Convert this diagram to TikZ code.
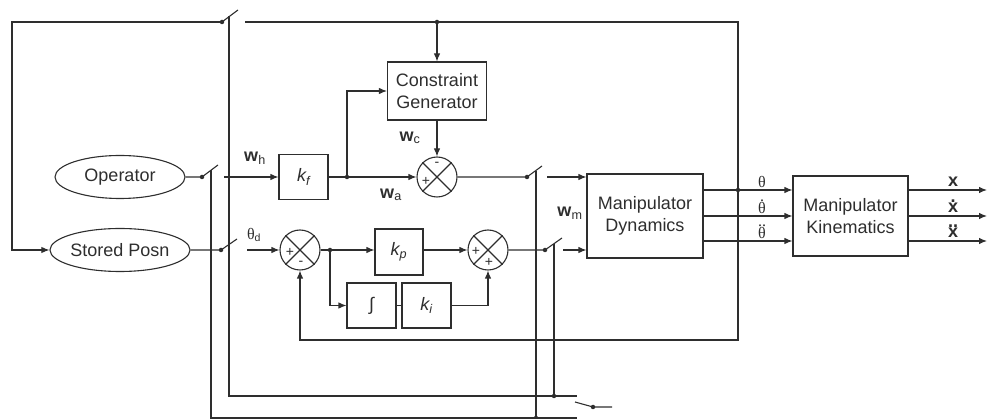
\documentclass[tikz,border=0pt]{standalone}
\usepackage{fontspec}
\setmainfont{Liberation Sans}
\newfontfamily\serifth{Liberation Serif}
\usetikzlibrary{shapes.geometric,arrows.meta,calc}
\newcommand\overdots[2]{\leavevmode\setbox0\hbox{#2}\rlap{\hbox to\wd0{\hss\smash{\raisebox{\dimexpr\ht0+1.2pt\relax}{#1}}\hss}}\box0}
\begin{document}
\begin{tikzpicture}[x=1pt,y=-1pt,
  color=black!82,
  line width=1.1pt,
  blk/.style={draw, rectangle, inner sep=0pt, font=\fontsize{18}{22}\selectfont, align=center},
  ell/.style={draw, ellipse, inner sep=0pt, minimum width=130pt, minimum height=43pt, font=\fontsize{18}{22}\selectfont},
  sumj/.style={draw, circle, minimum size=40pt, inner sep=0pt},
  arr/.style={-{Latex[length=8pt,width=6.5pt]}},
  jdot/.style={circle, fill=black!82, draw=none, inner sep=0pt, minimum size=4.5pt},
  lbl/.style={font=\fontsize{18}{20}\selectfont, inner sep=0pt},
  thl/.style={font=\fontsize{16}{18}\serifth, inner sep=0pt},
  sgn/.style={font=\fontsize{14}{16}\selectfont, inner sep=0pt},
]
\useasboundingbox (0,0) rectangle (989,419);

% blocks
\node[ell] (op) at (120,177) {Operator};
\node[ell] (sp) at (120,250) {Stored Posn};
\node[blk, minimum width=49pt, minimum height=45pt] (kf) at (303.5,177) {\itshape k\textsubscript{f}};
\node[blk, minimum width=99pt, minimum height=58pt] (cg) at (437,91) {Constraint\\Generator};
\node[sumj] (s1) at (437,177) {};
\node[sumj] (s2) at (300,250) {};
\node[blk, minimum width=48pt, minimum height=46pt] (kp) at (399,252) {\itshape k\textsubscript{p}};
\node[blk, minimum width=49pt, minimum height=45pt] (ib) at (371.5,305.5) {\itshape ∫};
\node[blk, minimum width=49pt, minimum height=45pt] (ki) at (426.5,305.5) {\itshape k\textsubscript{i}};
\node[sumj] (s3) at (488,250) {};
\node[blk, minimum width=116pt, minimum height=84pt] (md) at (645,216) {Manipulator\\Dynamics};
\node[blk, minimum width=115pt, minimum height=80pt] (mk) at (850.5,216) {Manipulator\\Kinematics};

\foreach \s in {s1,s2,s3} {\draw (\s.north west) -- (\s.south east) (\s.north east) -- (\s.south west);}

% signs
\node[sgn] at (437,164) {-};
\node[sgn] at (426,181) {+};
\node[sgn] at (290,252) {+};
\node[sgn] at (301,263) {-};
\node[sgn] at (476,251) {+};
\node[sgn] at (489,262) {+};

% coordinates
\coordinate (pT) at (222,22);
\coordinate (bT) at (238,10);
\coordinate (rT) at (245,22);
\coordinate (cTL) at (12,22);
\coordinate (cTR) at (738,22);
\coordinate (cBR) at (738,340);
\coordinate (jCG) at (437,22);
\coordinate (pO) at (202,177);
\coordinate (bO) at (218,165);
\coordinate (rO) at (224,177);
\coordinate (j1) at (347,177);
\coordinate (pA) at (527,177);
\coordinate (bA) at (542,166);
\coordinate (rA) at (547,177);
\coordinate (pD) at (221,250);
\coordinate (bD) at (237,239);
\coordinate (rD) at (247,250);
\coordinate (j2) at (330,250);
\coordinate (pB) at (545,250);
\coordinate (bB) at (562,238);
\coordinate (rB) at (563,250);
\coordinate (xend) at (987,0);

% top feedback loop
\draw[arr] (rT) -- (cTR) -- (cBR) -| (s2.south);
\draw[arr] (pT) -- (cTL) |- (sp.west);
\draw (pT) -- (bT);
\draw[arr] (jCG) -- (cg.north);

% operator path
\draw (op.east) -- (pO) -- (bO);
\draw[arr] (rO) -- (kf.west);
\draw[arr] (kf.east) -- (s1.west);
\draw[arr] (j1) |- (cg.west);
\draw[arr] (cg.south) -- (s1.north);
\draw (s1.east) -- (pA) -- (bA);
\draw[arr] (rA) -- (rA -| md.west);

% stored position path
\draw (sp.east) -- (pD) -- (bD);
\draw[arr] (rD) -- (s2.west);
\draw[arr] (s2.east) -- (s2.east -| kp.west);
\draw[arr] (j2) |- (ib.west);
\draw (ib.east) -- (ki.west);
\draw[arr] (ki.east) -| (s3.south);
\draw[arr] (s2.east -| kp.east) -- (s3.west);
\draw (s3.east) -- (pB) -- (bB);
\draw[arr] (rB) -- (rB -| md.west);

% outputs
\path (md.east) ++(0,-26) coordinate (m1);
\path (md.east) coordinate (m2);
\path (md.east) ++(0,25) coordinate (m3);
\foreach \m in {m1,m2,m3} {
  \draw[arr] (\m) -- (\m -| mk.west);
  \draw[arr] (\m -| mk.east) -- (\m -| xend);
}

% switch linkages
\draw (211,170) -- (211,418) -- (577,418);
\draw (229,16) -- (229,396) -- (577,396);
\draw (536,171) -- (536,418);
\draw (554,244) -- (554,396);
\draw (575,402) -- (593,407) -- (612,407);

% dots
\foreach \p in {pT,pO,pA,pD,pB,j1,j2,jCG} {\node[jdot] at (\p) {};}
\node[jdot] at (cTR |- m1) {};
\node[jdot] at (536,418) {};
\node[jdot] at (554,396) {};
\node[jdot] at (593,407) {};

% labels
\node[lbl] at (255,158) {\textbf{w}\textsubscript{h}};
\node[lbl] at (410,138) {\textbf{w}\textsubscript{c}};
\node[lbl] at (391,195) {\textbf{w}\textsubscript{a}};
\node[lbl] at (570,213) {\textbf{w}\textsubscript{m}};
\node[thl] at (254,235) {θ{\fontsize{15}{17}\sffamily\textsubscript{\rmfamily d}}};
\node[thl] at (762,182) {θ};
\node[thl] at (762,208) {\overdots{.}{θ}};
\node[thl] at (762,233) {\overdots{..}{θ}};
\node[lbl] at (953,182) {\textbf{x}};
\node[lbl] at (953,208) {\overdots{\textbf{.}}{\textbf{x}}};
\node[lbl] at (953,233) {\overdots{\textbf{..}}{\textbf{x}}};
\end{tikzpicture}
\end{document}
